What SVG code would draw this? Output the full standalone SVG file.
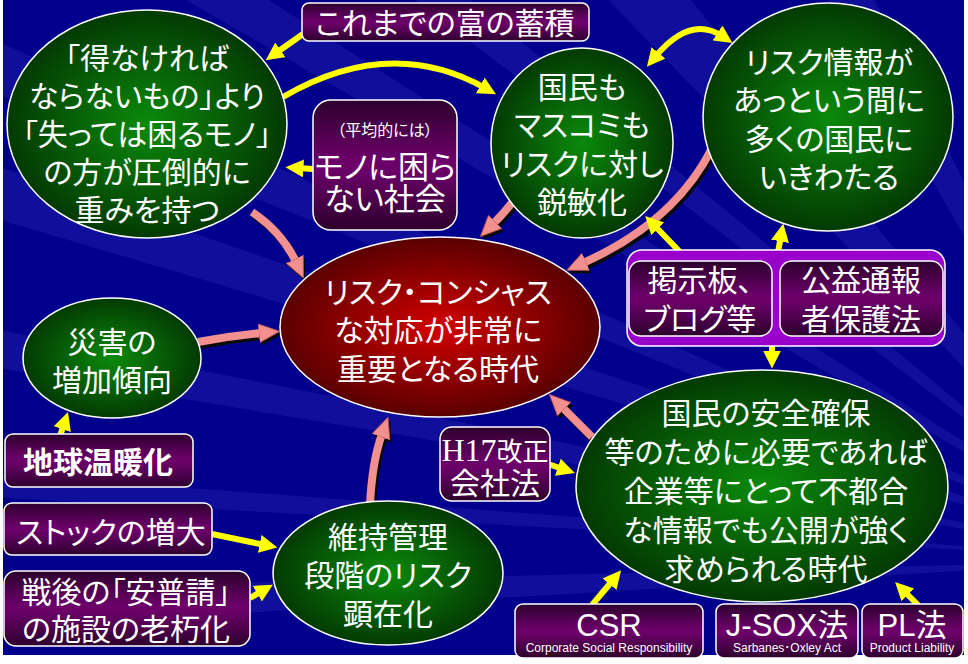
<svg xmlns="http://www.w3.org/2000/svg" width="968" height="664" viewBox="0 0 968 664">
<defs>
<style>
.t{font-family:"Noto Sans CJK JP","Noto Sans",sans-serif;fill:#fff;font-size:30px;text-anchor:middle;font-feature-settings:"palt";}
.s{font-size:16px;}
.b{font-weight:bold;}
.lat{font-family:"Liberation Sans","Noto Sans CJK JP",sans-serif;font-feature-settings:normal;}
.ser{font-family:"Liberation Serif",serif;}
.sm{font-family:"Liberation Sans","Noto Sans CJK JP",sans-serif;font-size:12px;font-feature-settings:normal;}
.ge{fill:url(#gG);stroke:#fff;stroke-width:1.5;}
.re{fill:url(#gR);stroke:#fff;stroke-width:1.5;}
.pb{fill:url(#gP);stroke:#fff;stroke-width:1.5;}
.ya{fill:none;stroke:#ffff00;stroke-width:6;marker-end:url(#ya);}
.pk{fill:none;stroke:#f29090;stroke-width:8;marker-end:url(#pa);}
.sh{fill:none;stroke:#0a0a0a;stroke-width:8;marker-end:url(#ps);}
.ray{fill:#2a2ab8;opacity:0.35;}
</style>
<radialGradient id="gG" cx="50%" cy="50%" r="50%"><stop offset="0" stop-color="#0b8a0b"/><stop offset="1" stop-color="#033a03"/></radialGradient>
<radialGradient id="gR" cx="50%" cy="50%" r="50%"><stop offset="0" stop-color="#d40000"/><stop offset="1" stop-color="#5a0000"/></radialGradient>
<linearGradient id="gP" x1="0" y1="0" x2="0" y2="1"><stop offset="0" stop-color="#2c002c"/><stop offset="0.45" stop-color="#6a0068"/><stop offset="0.55" stop-color="#6a0068"/><stop offset="1" stop-color="#2c002c"/></linearGradient>
<marker id="ya" viewBox="0 0 10 10" refX="3" refY="5" markerWidth="18" markerHeight="18" markerUnits="userSpaceOnUse" orient="auto-start-reverse"><path d="M0,0 L10,5 L0,10 z" fill="#ffff00"/></marker>
<marker id="pa" viewBox="0 0 20 20" refX="3" refY="10" markerWidth="21" markerHeight="21" markerUnits="userSpaceOnUse" orient="auto"><path d="M0,1 L20,10 L0,19 z" fill="#f29090" stroke="#b85050" stroke-width="0.8"/></marker>
<marker id="ps" viewBox="0 0 20 20" refX="3" refY="10" markerWidth="21" markerHeight="21" markerUnits="userSpaceOnUse" orient="auto"><path d="M0,1 L20,10 L0,19 z" fill="#0a0a0a"/></marker>
</defs>
<rect width="968" height="664" fill="#ffffff"/>
<svg x="3" y="0" width="961" height="655" viewBox="3 0 961 655" overflow="hidden">
<rect x="3" y="0" width="961" height="655" fill="#00008c"/>
<g id="background-rays">
<polygon class="ray" points="1150,560 -50,150 -50,205"/>
<polygon class="ray" points="1150,560 -50,320 -50,360"/>
<polygon class="ray" points="1150,560 -50,20 -50,75"/>
<polygon class="ray" points="1150,560 100,-50 190,-50"/>
<polygon class="ray" points="1150,560 350,-50 410,-50"/>
<polygon class="ray" points="1150,560 560,-50 650,-50"/>
<polygon class="ray" points="1150,560 800,-50 850,-50"/>
<polygon class="ray" points="1150,560 -50,470 -50,495"/>
<polygon class="ray" points="1150,560 -50,590 -50,630"/>
<polygon class="ray" points="1150,560 960,-50 1000,-50"/>
</g>
</svg>

<g id="connectors">
<g id="pink-shadows" transform="translate(2,3)">
<path class="sh" d="M252,212 Q282,232 296,262"/>
<path class="sh" d="M514,200 Q505,212 493,224"/>
<path class="sh" d="M712,148 Q675,222 583,263"/>
<path class="sh" d="M198,342 Q230,336 262,333"/>
<path class="sh" d="M370,505 Q372,462 382,434"/>
<path class="sh" d="M592,437 L562,407"/>
</g>
<g id="pink-arrows">
<path class="pk" d="M252,212 Q282,232 296,262"/>
<path class="pk" d="M514,200 Q505,212 493,224"/>
<path class="pk" d="M712,148 Q675,222 583,263"/>
<path class="pk" d="M198,342 Q230,336 262,333"/>
<path class="pk" d="M370,505 Q372,462 382,434"/>
<path class="pk" d="M592,437 L562,407"/>
</g>
<g id="yellow-arrows">
<path class="ya" d="M303,34 L276,53"/>
<path class="ya" d="M283,97 Q390,35 485,88"/>
<path class="ya" d="M313,169 L298,168"/>
<path class="ya" d="M655,57 Q690,15 722,36" style="marker-start:url(#ya)"/>
<path class="ya" d="M680,252 L654,225"/>
<path class="ya" d="M778,252 L781,236"/>
<path class="ya" d="M772,345 L772,356"/>
<path class="ya" d="M548,464 L563,469"/>
<path class="ya" d="M592,605 L613,580"/>
<path class="ya" d="M918,605 L904,591"/>
<path class="ya" d="M60,436 L64,424"/>
<path class="ya" d="M212,534 L265,545"/>
<path class="ya" d="M250,598 L262,591"/>
</g>
</g>

<g id="n-left">
<ellipse class="ge" cx="147" cy="124" rx="140" ry="114"/>
<text class="t" x="147" y="69">「得なければ<tspan x="147" dy="38">ならないもの」より</tspan><tspan x="147" dy="38">「失っては困るモノ」</tspan><tspan x="147" dy="38">の方が圧倒的に</tspan><tspan x="147" dy="38">重みを持つ</tspan></text>
</g>

<g id="n-tomi">
<rect class="pb" x="302" y="3" width="287" height="38" rx="7"/>
<text class="t" x="445" y="34">これまでの富の蓄積</text>
</g>

<g id="n-mono">
<rect class="pb" x="313" y="100" width="144" height="130" rx="18"/>
<text class="t" x="385" y="136"><tspan class="s">（平均的には）</tspan><tspan x="385" dy="42" style="font-size:31px">モノに困ら</tspan><tspan x="385" dy="32" style="font-size:31px">ない社会</tspan></text>
</g>

<g id="n-kokumin">
<ellipse class="ge" cx="582" cy="143" rx="91" ry="95"/>
<text class="t" x="582" y="98">国民も<tspan x="582" dy="38">マスコミも</tspan><tspan x="582" dy="39">リスクに対し</tspan><tspan x="582" dy="38">鋭敏化</tspan></text>
</g>

<g id="n-joho">
<ellipse class="ge" cx="828" cy="117" rx="125" ry="114"/>
<text class="t" x="829" y="73">リスク情報が<tspan x="829" dy="38">あっという間に</tspan><tspan x="829" dy="39">多くの国民に</tspan><tspan x="829" dy="38">いきわたる</tspan></text>
</g>

<g id="n-center">
<ellipse class="re" cx="440" cy="327" rx="160" ry="90"/>
<text class="t" x="438" y="303">リスク・コンシャス<tspan x="438" dy="38">な対応が非常に</tspan><tspan x="438" dy="39">重要となる時代</tspan></text>
</g>

<g id="n-saigai">
<ellipse class="ge" cx="112" cy="358" rx="89" ry="60"/>
<text class="t" x="112" y="353">災害の<tspan x="112" dy="38">増加傾向</tspan></text>
</g>

<g id="n-ondanka">
<rect class="pb" x="5" y="434" width="188" height="53" rx="8"/>
<text class="t b" x="98" y="473">地球温暖化</text>
</g>

<g id="n-container">
<rect x="627" y="250" width="318" height="96" rx="15" fill="#9900cc" stroke="#fff" stroke-width="1.5"/>
</g>
<g id="n-keiji">
<rect class="pb" x="629" y="261" width="143" height="75" rx="12"/>
<text class="t" x="700" y="291">掲示板、<tspan x="700" dy="39">ブログ等</tspan></text>
</g>
<g id="n-koeki">
<rect class="pb" x="780" y="261" width="163" height="75" rx="12"/>
<text class="t" x="861" y="291">公益通報<tspan x="861" dy="39">者保護法</tspan></text>
</g>

<g id="n-anzen">
<ellipse class="ge" cx="762" cy="486" rx="186" ry="116"/>
<text class="t" x="766" y="424">国民の安全確保<tspan x="766" dy="39">等のために必要であれば</tspan><tspan x="766" dy="39">企業等にとって不都合</tspan><tspan x="766" dy="39">な情報でも公開が強く</tspan><tspan x="766" dy="39">求められる時代</tspan></text>
</g>

<g id="n-h17">
<rect class="pb" x="440" y="427" width="110" height="74" rx="12"/>
<text class="t" x="495" y="461"><tspan class="ser" style="font-size:32px">H17</tspan><tspan style="font-size:26px">改正</tspan><tspan x="495" dy="33">会社法</tspan></text>
</g>

<g id="n-stock">
<rect class="pb" x="4" y="503" width="208" height="52" rx="8"/>
<text class="t" x="111" y="543">ストックの増大</text>
</g>

<g id="n-sengo">
<rect class="pb" x="4" y="571" width="246" height="75" rx="12"/>
<text class="t" x="126" y="603">戦後の「安普請」<tspan x="126" dy="37">の施設の老朽化</tspan></text>
</g>

<g id="n-iji">
<ellipse class="ge" cx="388" cy="573" rx="115" ry="72"/>
<text class="t" x="388" y="548">維持管理<tspan x="388" dy="38">段階のリスク</tspan><tspan x="388" dy="39">顕在化</tspan></text>
</g>

<g id="n-csr">
<rect class="pb" x="515" y="604" width="188" height="54" rx="8"/>
<text class="t" x="609" y="636"><tspan class="lat" style="font-size:31px">CSR</tspan><tspan class="sm" x="609" dy="16">Corporate Social Responsibility</tspan></text>
</g>

<g id="n-jsox">
<rect class="pb" x="716" y="604" width="142" height="54" rx="8"/>
<text class="t" x="787" y="636" style="font-size:31px"><tspan class="lat">J-SOX</tspan>法<tspan class="sm" x="787" dy="16">Sarbanes･Oxley Act</tspan></text>
</g>

<g id="n-pl">
<rect class="pb" x="862" y="604" width="101" height="54" rx="8"/>
<text class="t" x="912" y="636" style="font-size:31px"><tspan class="lat">PL</tspan>法<tspan class="sm" x="912" dy="16">Product Liability</tspan></text>
</g>
</svg>
